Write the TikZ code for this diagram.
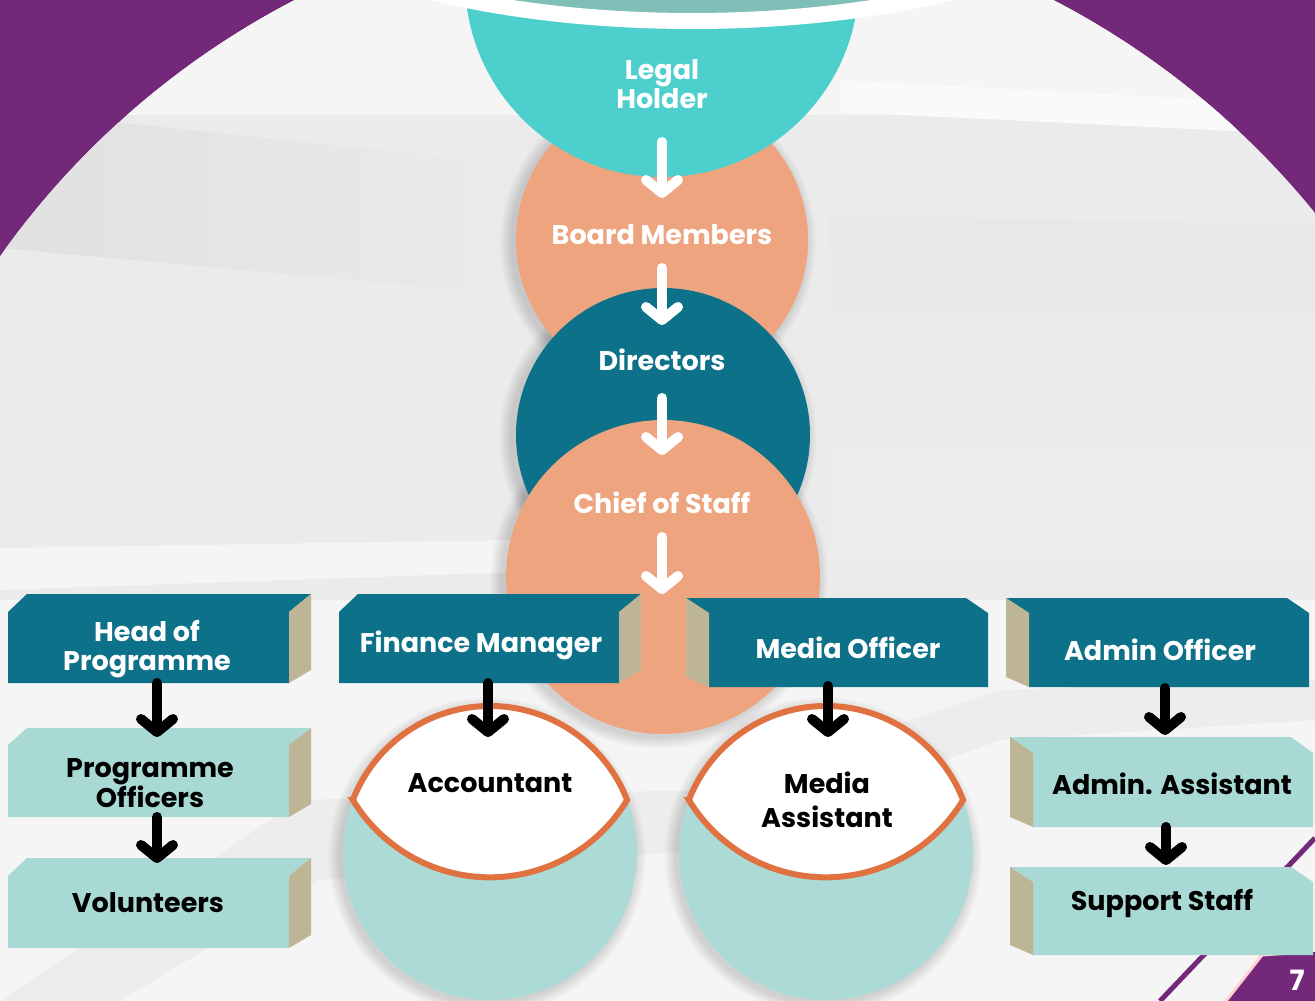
\documentclass[tikz,border=0pt]{standalone}
\usepackage{fontspec}
\setmainfont{Poppins}
\usetikzlibrary{arrows.meta,calc}
\definecolor{purp}{HTML}{74287A}
\definecolor{bggray}{HTML}{EBEBEB}
\definecolor{orng}{HTML}{EEA47F}
\definecolor{tealL}{HTML}{4DCFCD}
\definecolor{tealG}{HTML}{80BFB8}
\definecolor{dteal}{HTML}{0D7189}
\definecolor{tealP}{HTML}{ACDAD6}
\definecolor{lensline}{HTML}{E07242}
\definecolor{khaki}{HTML}{BDB596}
\definecolor{lface}{HTML}{A9D9D4}
\tikzset{
  dface/.style={fill=dteal},
  lightface/.style={fill=lface},
  sideface/.style={fill=khaki},
  softshadow/.style={fill=black, opacity=0.01},
  wtxt/.style={text=white, font=\bfseries\fontsize{27}{29}\selectfont, align=center, inner sep=0pt},
  btxt/.style={text=black, font=\bfseries\fontsize{27}{29}\selectfont, align=center, inner sep=0pt},
  warrow/.style={draw=white, line width=10pt, line cap=round,
     -{Straight Barb[round, length=13pt, width=32pt]}},
  barrow/.style={draw=black, line width=10pt, line cap=round,
     -{Straight Barb[round, length=13pt, width=32pt]}},
  lens/.style={fill=white, draw=lensline, line width=6pt},
}
\newcommand\boxR[6]{%
  \fill[#6] (#1,#5) -- (#1,#4) -- ({#1+19},#3) -- ({#2+22},#3) -- (#2,#4) -- (#2,#5) -- cycle;
  \fill[sideface] (#2,#4) -- ({#2+22},#3) -- ({#2+22},{#5-13}) -- (#2,#5) -- cycle;}
\newcommand\boxL[6]{%
  \fill[#6] ({#1-23},#3) -- ({#2-22},#3) -- (#2,#4) -- (#2,#5) -- (#1,#5) -- (#1,#4) -- cycle;
  \fill[sideface] ({#1-23},#3) -- (#1,#4) -- (#1,#5) -- ({#1-23},{#5-10}) -- cycle;}
\begin{document}
\begin{tikzpicture}[x=1pt,y=-1pt]
\useasboundingbox (0,0) rectangle (1315,1001);
% background
\fill[purp] (0,0) rectangle (1315,1001);
\begin{scope}
  \clip (0,0) rectangle (1315,1001);
  \clip (674,734) circle (826);
  \fill[bggray] (0,0) rectangle (1315,1001);
  \fill[black!4] (0,0) rectangle (1315,115);
  \shade[left color=black!12, right color=black!8] (0,110) -- (520,165) -- (520,295) -- (0,248) -- cycle;
  \fill[black!2] (840,80) -- (1315,105) -- (1315,135) -- (840,112) -- cycle;
  \shade[top color=black!9, bottom color=black!7] (830,215) -- (1315,225) -- (1315,560) -- (830,560) -- cycle;
  \fill[black!4] (0,548) -- (520,540) -- (520,572) -- (0,590) -- cycle;
  \fill[black!4] (0,600) rectangle (1315,1001);
  \fill[black!7] (0,1001) -- (300,800) -- (700,790) -- (1000,690) -- (1315,680) -- (1315,720) -- (1000,740) -- (700,850) -- (320,880) -- (120,1001) -- cycle;
\end{scope}
% soft shadows of the circles
\foreach \r in {1,...,12}{
  \fill[softshadow] (658,243) circle ({146+\r});
  \fill[softshadow] (658,438) circle ({147+\r});
  \fill[softshadow] (659,580) circle ({157+\r});
  \fill[softshadow] (487,856) circle ({147+\r});
  \fill[softshadow] (823,856) circle ({147+\r});
}
% central circles
\fill[orng] (662,240) circle (146);
\fill[tealL] (662,-20) circle (197);
\draw[line width=16pt, draw=white, fill=tealG] (692,-150) ellipse [x radius=469, y radius=171];
\fill[dteal] (663,435) circle (147);
\fill[orng] (663,577) circle (157);
% bottom circles and lenses
\fill[tealP] (490,853) circle (147);
\fill[tealP] (826,853) circle (147);
\path[lens] ([shift={(201.13:147)}]490,853) arc[start angle=201.13, end angle=338.87, radius=147]
   arc[start angle=31.19, end angle=148.81, radius=160.3] -- cycle;
\path[lens] ([shift={(201.13:147)}]826,853) arc[start angle=201.13, end angle=338.87, radius=147]
   arc[start angle=31.19, end angle=148.81, radius=160.3] -- cycle;
% bottom-right decoration (behind the boxes)
\draw[purp, line width=5pt] (1160,1001) -- (1315,838);
\fill[purp] (1226,1001) -- (1262,955) -- (1315,952) -- (1315,1001) -- cycle;
\draw[pink!70!white, line width=3pt] (1226,1001) -- (1262,955) -- (1290,953);
% boxes
\boxR{8}{289}{594}{612}{683}{dface}
\boxR{8}{289}{728}{745}{817}{lightface}
\boxR{8}{289}{858}{876}{948}{lightface}
\boxR{339}{619}{594}{612}{683}{dface}
\boxL{709}{988}{598}{613}{687}{dface}
\boxL{1029}{1309}{598}{613}{687}{dface}
\boxL{1033}{1313}{737}{753}{827}{lightface}
\boxL{1033}{1313}{867}{882}{955}{lightface}
\node[text=white, font=\bfseries\fontsize{28}{30}\selectfont, inner sep=0pt] (page) at (1297,980) {7};
% texts
\node[wtxt] (legal) at (662,84) {Legal\\Holder};
\node[wtxt] (board) at (662,235) {Board Members};
\node[wtxt] (directors) at (662,360) {Directors};
\node[wtxt] (chief) at (662,503) {Chief of Staff};
\coordinate (split) at (662,594);
\node[wtxt] (head) at (147,649) {Head of\\Programme};
\node[wtxt] (fin) at (481,645) {Finance Manager};
\node[wtxt] (media) at (848,648) {Media Officer};
\node[wtxt] (admin) at (1160,650) {Admin Officer};
\node[btxt] (prog) at (150,783) {Programme\\Officers};
\node[btxt] (vol) at (148,903) {Volunteers};
\node[btxt] (acct) at (490,783) {Accountant};
\node[btxt] (massist) at (827,800) {Media\\[5pt]Assistant};
\node[btxt] (aassist) at (1172,784) {Admin. Assistant};
\node[btxt] (support) at (1162,903) {Support Staff};
% connectors
\draw[warrow, shorten <=58pt, shorten >=37pt] (legal.center) -- (board.center);
\draw[warrow, shorten <=33pt, shorten >=35pt] (board.center) -- (directors.center);
\draw[warrow, shorten <=38pt, shorten >=48pt] (directors.center) -- (chief.center);
\draw[warrow, shorten <=34pt] (chief.center) -- (split);
\draw[barrow] ($(head)+(10,34)$) -- ($(prog)+(7,-46)$);
\draw[barrow] ($(prog)+(7,34)$) -- ($(vol)+(9,-40)$);
\draw[barrow] ($(fin)+(7,38)$) -- ($(acct)+(-2,-46)$);
\draw[barrow] ($(media)+(-20,38)$) -- ($(massist)+(1,-63)$);
\draw[barrow] ($(admin)+(5,38)$) -- ($(aassist)+(-7,-49)$);
\draw[barrow] ($(aassist)+(-6,43)$) -- ($(support)+(4,-38)$);
\end{tikzpicture}
\end{document}
